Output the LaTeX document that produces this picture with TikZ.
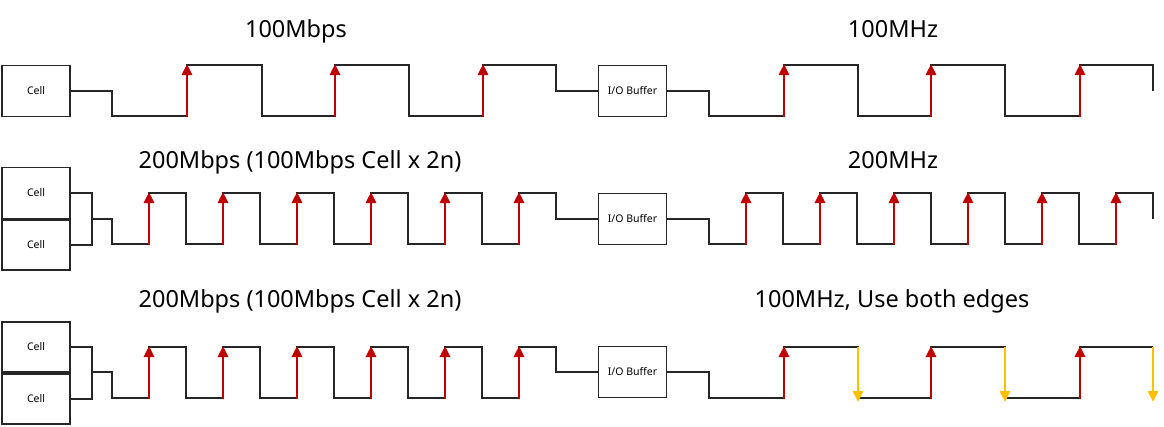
\documentclass[tikz,border=0pt]{standalone}
\usepackage{fontspec}
\setmainfont{Noto Sans}
\usetikzlibrary{arrows.meta}
\definecolor{wire}{HTML}{262626}
\definecolor{edgered}{HTML}{C00000}
\definecolor{edgeyel}{HTML}{FFC000}
\tikzset{
  box/.style={draw=wire, line width=1.3pt, rectangle, inner sep=0pt, minimum width=68pt, minimum height=51pt, font=\fontsize{10.5}{12}\selectfont},
  wave/.style={draw=wire, line width=1.5pt, line join=miter},
  rise/.style={draw=edgered, line width=2.8pt, -{Triangle[length=11pt,width=10pt]}},
  fall/.style={draw=edgeyel, line width=2.8pt, -{Triangle[length=11pt,width=10pt]}},
  title/.style={anchor=base, font=\fontsize{23.5}{27}\selectfont, inner sep=0pt}
}
\begin{document}
\begin{tikzpicture}[x=1pt,y=-1pt]
\useasboundingbox (0,0) rectangle (1164,426);

% titles
\node[title] (t1l) at (296,37) {100Mbps};
\node[title] (t1r) at (893,37) {100MHz};
\node[title] (t2l) at (300,168) {200Mbps (100Mbps Cell x 2n)};
\node[title] (t2r) at (893,168) {200MHz};
\node[title] (t3l) at (300,307) {200Mbps (100Mbps Cell x 2n)};
\node[title] (t3r) at (892,307) {100MHz, Use both edges};

% ---------- row 1 ----------
\node[box] (c1) at (36,91) {Cell};
\node[box] (b1) at (632.5,91) {I/O Buffer};
\draw[wave] (c1.east) -- (112,91) -- (112,116) -- (187,116) -- (187,65) -- (262,65) -- (262,116) -- (335,116) -- (335,65) -- (409,65) -- (409,116) -- (483,116) -- (483,65) -- (556,65) -- (556,91) -- (b1.west);
\draw[wave] (b1.east) -- (709,91) -- (709,116) -- (784,116) -- (784,65) -- (858,65) -- (858,116) -- (931,116) -- (931,65) -- (1005,65) -- (1005,116) -- (1080,116) -- (1080,65) -- (1153,65) -- (1153,91);
\foreach \x in {187,335,483,784,931,1080} \draw[rise] (\x,117) -- (\x,64);

% ---------- row 2 ----------
\node[box, minimum height=51pt] (c2a) at (36,193) {Cell};
\node[box, minimum height=50pt] (c2b) at (36,245) {Cell};
\node[box] (b2) at (632.5,219) {I/O Buffer};
\coordinate (j2) at (92,219);
\draw[wave] (c2a.east) -- (92,193) -- (92,245) -- (c2b.east);
\draw[wave] (j2) -- (112,219) -- (112,244) -- (149,244) -- (149,193) -- (186,193) -- (186,244) -- (223,244) -- (223,193) -- (260,193) -- (260,244) -- (297,244) -- (297,193) -- (334,193) -- (334,244) -- (371,244) -- (371,193) -- (408,193) -- (408,244) -- (445,244) -- (445,193) -- (482,193) -- (482,244) -- (519,244) -- (519,193) -- (556,193) -- (556,219) -- (b2.west);
\draw[wave] (b2.east) -- (709,219) -- (709,244) -- (746,244) -- (746,193) -- (783,193) -- (783,244) -- (820,244) -- (820,193) -- (857,193) -- (857,244) -- (894,244) -- (894,193) -- (931,193) -- (931,244) -- (968,244) -- (968,193) -- (1005,193) -- (1005,244) -- (1042,244) -- (1042,193) -- (1079,193) -- (1079,244) -- (1116,244) -- (1116,193) -- (1153,193) -- (1153,219);
\foreach \x in {149,223,297,371,445,519,746,820,894,968,1042,1116} \draw[rise] (\x,245) -- (\x,192);

% ---------- row 3 ----------
\node[box, minimum height=50pt] (c3a) at (36,347) {Cell};
\node[box, minimum height=50pt] (c3b) at (36,399) {Cell};
\node[box] (b3) at (632.5,372) {I/O Buffer};
\coordinate (j3) at (92,372);
\draw[wave] (c3a.east) -- (92,347) -- (92,399) -- (c3b.east);
\draw[wave] (j3) -- (112,372) -- (112,398) -- (149,398) -- (149,347) -- (186,347) -- (186,398) -- (223,398) -- (223,347) -- (260,347) -- (260,398) -- (297,398) -- (297,347) -- (334,347) -- (334,398) -- (371,398) -- (371,347) -- (408,347) -- (408,398) -- (445,398) -- (445,347) -- (482,347) -- (482,398) -- (519,398) -- (519,347) -- (556,347) -- (556,372) -- (b3.west);
\draw[wave] (b3.east) -- (709,372) -- (709,398) -- (784,398) -- (784,347) -- (858,347) -- (858,398) -- (931,398) -- (931,347) -- (1005,347) -- (1005,398) -- (1080,398) -- (1080,347) -- (1153,347);
\foreach \x in {149,223,297,371,445,519,784,931,1080} \draw[rise] (\x,399) -- (\x,346);
\foreach \x in {858,1005,1153} \draw[fall] (\x,347) -- (\x,402);
\end{tikzpicture}
\end{document}
